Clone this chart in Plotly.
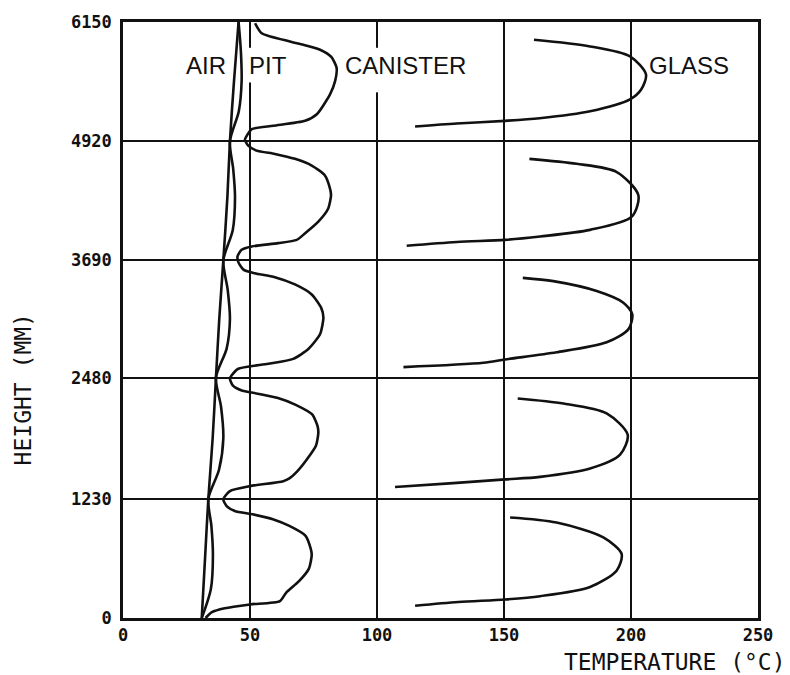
import plotly.graph_objects as go

# Axis ticks
x_ticks = [0, 50, 100, 150, 200, 250]
y_ticks = [0, 1230, 2480, 3690, 4920, 6150]
y_tick_labels = ["0", "1230", "2480", "3690", "4920", "6150"]

# Air temperature profile (nearly straight)
air_temp = [31, 32.3, 33.6, 35.3, 36.6, 37.9, 39.5, 41.1, 42.1, 43.7, 45.5]
air_height = [0, 615, 1230, 1855, 2480, 3085, 3690, 4346, 4920, 5539, 6150]

# Pit wall profile (bulges between the canister joints)
pit_temp = [31, 34.6, 35.4, 34.8, 33.6, 37.8, 39.5, 38.6, 36.6, 40.8, 42.1, 41.2,
            39.5, 43.2, 44.1, 43.4, 42.1, 45.6, 46.7, 46.4, 45.5]
pit_height = [0, 300, 650, 950, 1230, 1530, 1855, 2180, 2480, 2780, 3083, 3390,
              3690, 4000, 4346, 4630, 4920, 5230, 5539, 5850, 6150]

# Canister wall temperature along the stack
canister_temp = [32.5, 35, 40, 50, 61.8, 64.2, 69.3, 73.2, 74.3, 73.9, 71.8, 65.5,
                 59, 51, 44, 40.8, 39.5,
                 42.1, 50, 63.1, 65.5, 68.5, 72.5, 76, 76.9, 76.6, 74.5, 68, 61,
                 53, 46.5, 43.2, 42.1,
                 42.8, 45.4, 57.2, 67, 73, 77.6, 78.9, 78, 74.3, 67.7, 59.8, 51.3,
                 47.4, 45.4,
                 45.1, 46.7, 50.7, 61.1, 68.4, 71.7, 76.9, 80.8, 81.9, 81.5, 79.5,
                 74.3, 67.7, 59.8, 52.6, 49.3, 48.0,
                 48.7, 50.7, 59.2, 71.7, 76.3, 81.5, 83.5, 84.1, 82, 77.6, 71,
                 65.7, 54.6, 52]
canister_height = [0, 60, 100, 140, 175, 260, 380, 510, 650, 715, 850, 950,
                   1020, 1070, 1105, 1155, 1225,
                   1310, 1361, 1412, 1440, 1510, 1640, 1780, 1910, 1980, 2100, 2200, 2270,
                   2315, 2350, 2400, 2470,
                   2504, 2572, 2623, 2674, 2776, 2930, 3101, 3203, 3339, 3442, 3517, 3561,
                   3595, 3672,
                   3732, 3800, 3834, 3868, 3902, 3970, 4090, 4226, 4362, 4431, 4567,
                   4669, 4738, 4789, 4823, 4874, 4935,
                   4975, 5045, 5079, 5130, 5198, 5403, 5540, 5677, 5790, 5864, 5915,
                   5949, 6034, 6137]

# Glass temperature, one profile per canister
glass_temp_1 = [115, 132, 150.4, 164.2, 183.9, 194.4, 196.3, 189.1, 170.7, 152.4]
glass_height_1 = [126, 165, 191, 225, 320, 491, 662, 832, 985, 1037]
glass_temp_2 = [107.1, 130, 150.4, 164.2, 183.9, 195.7, 198.7, 190.4, 173.4, 155.4]
glass_height_2 = [1351, 1392, 1430, 1456, 1542, 1685, 1890, 2111, 2213, 2265]
glass_temp_3 = [110.4, 141.9, 150.4, 170.7, 190.4, 199, 200.5, 197, 186.5, 169.4, 157.4]
glass_height_3 = [2589, 2633, 2668, 2742, 2845, 2981, 3134, 3254, 3374, 3476, 3510]
glass_temp_4 = [111.7, 131.4, 150.4, 164.2, 183.9, 200.3, 202.9, 194.4, 178.6, 160]
glass_height_4 = [3841, 3880, 3902, 3937, 4005, 4141, 4363, 4602, 4687, 4738]
glass_temp_5 = [115, 131.4, 150.4, 164, 183.9, 199.6, 204, 205.9, 199.6, 183.9, 161.8]
glass_height_5 = [5072, 5103, 5130, 5157, 5229, 5352, 5454, 5608, 5795, 5898, 5966]

glass_profiles = [
    (glass_temp_1, glass_height_1),
    (glass_temp_2, glass_height_2),
    (glass_temp_3, glass_height_3),
    (glass_temp_4, glass_height_4),
    (glass_temp_5, glass_height_5),
]

INK = "#111111"
line_style = dict(color=INK, width=2.6, shape="spline", smoothing=0.8)

fig = go.Figure()
fig.add_trace(go.Scatter(x=air_temp, y=air_height, mode="lines", line=line_style, name="Air"))
fig.add_trace(go.Scatter(x=pit_temp, y=pit_height, mode="lines", line=line_style, name="Pit"))
fig.add_trace(go.Scatter(x=canister_temp, y=canister_height, mode="lines",
                         line=dict(color=INK, width=2.6, shape="spline", smoothing=0.6),
                         name="Canister"))
for t, h in glass_profiles:
    fig.add_trace(go.Scatter(x=t, y=h, mode="lines", line=line_style, name="Glass"))

label_font = dict(family="Liberation Sans, Arial, sans-serif", size=24, color=INK)
for text, x, anchor in [("AIR", 41.0, "right"), ("PIT", 49.2, "left"),
                        ("CANISTER", 87.0, "left"), ("GLASS", 206.7, "left")]:
    fig.add_annotation(x=x, y=5700, xref="x", yref="y", text=text, showarrow=False,
                       xanchor=anchor, yanchor="middle", font=label_font, borderpad=0)

title_font = dict(family="DejaVu Sans Mono, monospace", size=23, color=INK)
fig.add_annotation(x=1.048, y=-0.073, xref="paper", yref="paper",
                   text="TEMPERATURE (°C)", showarrow=False,
                   xanchor="right", yanchor="middle", font=title_font)
fig.add_annotation(x=-0.158, y=0.383, xref="paper", yref="paper",
                   text="HEIGHT (MM)", showarrow=False, textangle=-90,
                   xanchor="center", yanchor="middle", font=title_font)

# breaks in the grid behind the curve labels
for gx, y0 in [(50, 5526), (100, 5424)]:
    fig.add_shape(type="rect", x0=gx - 1.3, x1=gx + 1.3, y0=y0, y1=5884,
                  xref="x", yref="y", fillcolor="white", line=dict(width=0),
                  layer="between")

tick_font = dict(family="DejaVu Sans Mono, monospace", size=17, color=INK, weight="bold")
fig.update_xaxes(range=[0, 250], tickvals=x_ticks, showgrid=True, gridcolor=INK,
                 gridwidth=2, zeroline=False, showline=True, linecolor=INK,
                 linewidth=2.5, mirror=True, ticks="", tickfont=tick_font,
                 ticklabelstandoff=0)
fig.update_yaxes(range=[0, 6150], tickvals=y_ticks, ticktext=y_tick_labels,
                 showgrid=True, gridcolor=INK, gridwidth=2, zeroline=False,
                 showline=True, linecolor=INK, linewidth=2.5, mirror=True, ticks="",
                 tickfont=tick_font, ticklabelstandoff=5)
fig.update_layout(width=790, height=675, showlegend=False,
                  margin=dict(l=123, r=32, t=17, b=57),
                  paper_bgcolor="white", plot_bgcolor="white")

fig.write_html("out.html")
